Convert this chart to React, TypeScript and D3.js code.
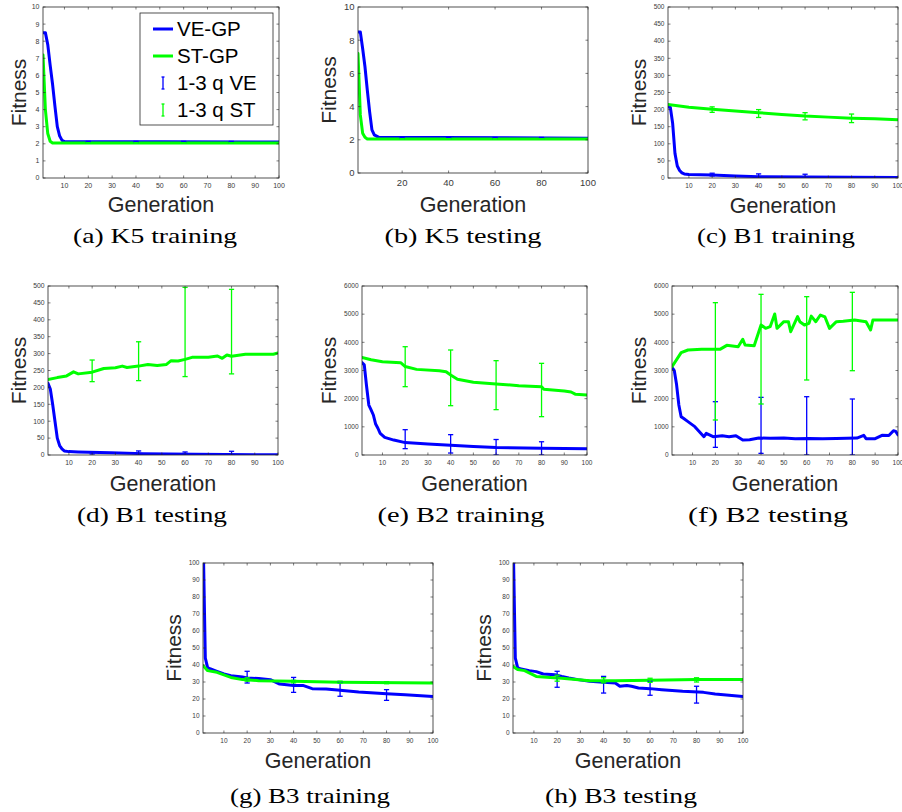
import React from 'react';
import * as d3 from 'd3';

type Pt = [number, number];
type Err = [number, number, number];

// ---------- shared tick values ----------
const generationDomain: [number, number] = [1, 100];
const xTicksBy10 = [10, 20, 30, 40, 50, 60, 70, 80, 90, 100];
const xTicksBy20 = [20, 40, 60, 80, 100];
const yTicksK5Train = [0, 1, 2, 3, 4, 5, 6, 7, 8, 9, 10];
const yTicksK5Test = [0, 2, 4, 6, 8, 10];
const yTicksB1 = [0, 50, 100, 150, 200, 250, 300, 350, 400, 450, 500];
const yTicksB2 = [0, 1000, 2000, 3000, 4000, 5000, 6000];
const yTicksB3 = [0, 10, 20, 30, 40, 50, 60, 70, 80, 90, 100];

const legendLabels = ['VE-GP', 'ST-GP', '1-3 q VE', '1-3 q ST'];
const xLabel = 'Generation';
const yLabel = 'Fitness';

// ---------- (a) K5 training ----------
const k5TrainVE: Pt[] = [[1, 8.5], [2, 8.5], [3, 7.8], [4, 6.6], [5, 5.5], [6, 4.2], [7, 3.0], [8, 2.45], [9, 2.2], [10, 2.13], [100, 2.1]];
const k5TrainST: Pt[] = [[1, 7.2], [2, 4.0], [3, 2.6], [4, 2.15], [5, 2.05], [100, 2.05]];
const k5TrainVEErr: Err[] = [[20, 2.07, 2.14], [40, 2.07, 2.14], [60, 2.07, 2.14], [80, 2.07, 2.14]];
const k5TrainSTErr: Err[] = [[20, 2.03, 2.07], [40, 2.03, 2.07], [60, 2.03, 2.07], [80, 2.03, 2.07]];

// ---------- (b) K5 testing ----------
const k5TestVE: Pt[] = [[1, 8.5], [2, 8.5], [3, 7.5], [4, 6.4], [5, 5.0], [6, 3.7], [7, 2.6], [8, 2.3], [10, 2.15], [100, 2.1]];
const k5TestST: Pt[] = [[1, 7.2], [2, 3.5], [3, 2.4], [4, 2.15], [5, 2.05], [100, 2.05]];
const k5TestVEErr: Err[] = [[20, 2.07, 2.14], [40, 2.07, 2.14], [60, 2.07, 2.14], [80, 2.07, 2.14]];
const k5TestSTErr: Err[] = [[20, 2.03, 2.07], [40, 2.03, 2.07], [60, 2.03, 2.07], [80, 2.03, 2.07]];

// ---------- (c) B1 training ----------
const b1TrainVE: Pt[] = [[1, 208], [2, 207], [3, 160], [4, 72], [5, 35], [6, 22], [7, 15], [8, 12], [10, 10], [20, 9], [30, 6], [40, 4], [60, 3], [80, 2], [100, 1.5]];
const b1TrainST: Pt[] = [[1, 215], [10, 207], [20, 201], [30, 196], [40, 191], [50, 186], [60, 181], [70, 178], [80, 175], [90, 173], [100, 170]];
const b1TrainVEErr: Err[] = [[20, 6, 14], [40, 3, 12], [60, 2, 11], [80, 0, 3]];
const b1TrainSTErr: Err[] = [[20, 192, 208], [40, 177, 200], [60, 170, 191], [80, 162, 187]];

// ---------- (d) B1 testing ----------
const b1TestVE: Pt[] = [[1, 212], [2, 195], [3, 150], [4, 100], [5, 50], [6, 28], [7, 18], [8, 12], [10, 10], [14, 9], [28, 7], [42, 4], [64, 2], [100, 0.7]];
const b1TestST: Pt[] = [[1, 223], [5, 229], [9, 234], [12, 246], [14, 240], [20, 245], [25, 256], [30, 258], [33, 263], [35, 259], [40, 263], [44, 268], [48, 265], [52, 268], [54, 279], [57, 278], [60, 283], [63, 289], [70, 289], [74, 293], [76, 286], [78, 296], [80, 292], [86, 298], [98, 298], [100, 302]];
const b1TestVEErr: Err[] = [[20, 3, 10], [40, 0, 12], [60, 0, 9], [80, 0, 11]];
const b1TestSTErr: Err[] = [[20, 217, 281], [40, 220, 335], [60, 232, 496], [80, 240, 490]];

// ---------- (e) B2 training ----------
const b2TrainVE: Pt[] = [[1, 3280], [2, 3200], [3, 2450], [4, 1775], [5, 1600], [6, 1420], [7, 1100], [8, 950], [9, 770], [11, 627], [15, 530], [20, 440], [30, 390], [40, 345], [50, 300], [60, 262], [80, 238], [100, 225]];
const b2TrainST: Pt[] = [[1, 3460], [5, 3380], [10, 3314], [18, 3278], [20, 3140], [25, 3040], [35, 2994], [38, 2958], [40, 2840], [43, 2686], [50, 2580], [60, 2521], [70, 2462], [80, 2426], [81, 2331], [90, 2272], [93, 2236], [95, 2154], [100, 2130]];
const b2TrainVEErr: Err[] = [[20, 225, 899], [40, 70, 722], [60, 0, 550], [80, 0, 470]];
const b2TrainSTErr: Err[] = [[20, 2426, 3845], [40, 1751, 3728], [60, 1610, 3349], [80, 1361, 3254]];

// ---------- (f) B2 testing ----------
const b2TestVE: Pt[] = [[1, 3113], [2, 3000], [3, 2500], [4, 1775], [5, 1361], [6, 1302], [8, 1184], [11, 1006], [13, 828], [15, 651], [16, 769], [19, 651], [23, 680], [26, 651], [29, 686], [32, 533], [35, 540], [39, 604], [44, 592], [50, 600], [55, 580], [61, 590], [67, 575], [73, 590], [82, 600], [85, 698], [86, 580], [90, 580], [93, 698], [96, 690], [98, 864], [99, 840], [100, 710]];
const b2TestST: Pt[] = [[1, 3136], [5, 3633], [8, 3728], [14, 3751], [22, 3751], [25, 3893], [30, 3846], [32, 4107], [33, 3905], [37, 3881], [40, 4615], [42, 4497], [44, 4556], [46, 5006], [47, 4497], [50, 4733], [52, 4733], [53, 4378], [56, 4911], [57, 4733], [59, 4615], [61, 4674], [62, 4930], [64, 4733], [66, 4970], [68, 4900], [70, 4497], [73, 4733], [76, 4750], [81, 4793], [86, 4733], [88, 4438], [89, 4793], [100, 4793]];
const b2TestVEErr: Err[] = [[20, 272, 1893], [40, 59, 2047], [60, 0, 2070], [80, 0, 1988]];
const b2TestSTErr: Err[] = [[20, 1243, 5408], [40, 1811, 5704], [60, 2663, 5621], [80, 2993, 5775]];

// ---------- (g) B3 training ----------
const b3TrainVE: Pt[] = [[1, 120], [2, 44], [3, 38.5], [4, 37.8], [7, 36.3], [10, 34.7], [13, 33.7], [18, 32.9], [20, 32.4], [25, 32], [30, 31.4], [34, 28.8], [40, 28], [44, 28], [48, 26.1], [54, 25.9], [60, 25.1], [68, 24.1], [80, 23.1], [88, 22.5], [100, 21.4]];
const b3TrainST: Pt[] = [[1, 39.6], [3, 36.7], [7, 35.7], [13, 32.7], [18, 31.4], [25, 30.8], [40, 30.4], [60, 29.8], [100, 29.4]];
const b3TrainVEErr: Err[] = [[20, 29.4, 36.3], [40, 23.9, 32.7], [60, 21.6, 30], [80, 19.2, 25.5]];
const b3TrainSTErr: Err[] = [[20, 30.5, 32.5], [40, 29.5, 31], [60, 29.3, 30.5], [80, 29, 30.2]];

// ---------- (h) B3 testing ----------
const b3TestVE: Pt[] = [[1, 120], [2, 44], [3, 38.5], [4, 37.8], [8, 36.7], [11, 36.1], [14, 34.7], [19, 34.3], [22, 33.3], [25, 32.4], [29, 31.4], [34, 30.4], [40, 29.8], [45, 29.4], [47, 27.5], [50, 28], [52, 27.5], [55, 26.5], [60, 26.1], [65, 25.5], [74, 24.5], [83, 23.9], [88, 22.9], [100, 21.4]];
const b3TestST: Pt[] = [[1, 39.2], [3, 37.3], [6, 36.7], [11, 33.3], [17, 32.7], [22, 32.2], [34, 30.8], [45, 30.8], [60, 31], [80, 31.4], [100, 31.4]];
const b3TestVEErr: Err[] = [[20, 26.9, 36.3], [40, 23.5, 33.3], [60, 22.2, 30.4], [80, 17.6, 27.5]];
const b3TestSTErr: Err[] = [[20, 30.5, 34], [40, 29.5, 32.5], [60, 29.8, 32.2], [80, 30, 32.5]];

// ---------- panel table ----------
const panels = [
  { id: 'a', caption: '(a) K5 training', ve: k5TrainVE, st: k5TrainST, veErr: k5TrainVEErr, stErr: k5TrainSTErr, yMax: 10, yTicks: yTicksK5Train, xTicks: xTicksBy10,
    box: [43, 279, 7, 178], tickFont: 7, fitX: 26, genY: 212, cap: [155, 243, 164], legend: true },
  { id: 'b', caption: '(b) K5 testing', ve: k5TestVE, st: k5TestST, veErr: k5TestVEErr, stErr: k5TestSTErr, yMax: 10, yTicks: yTicksK5Test, xTicks: xTicksBy20,
    box: [358, 588, 7, 173], tickFont: 9.5, fitX: 336, genY: 212, cap: [463, 243, 157] },
  { id: 'c', caption: '(c) B1 training', ve: b1TrainVE, st: b1TrainST, veErr: b1TrainVEErr, stErr: b1TrainSTErr, yMax: 500, yTicks: yTicksB1, xTicks: xTicksBy10,
    box: [668, 898, 7, 178], tickFont: 6.5, fitX: 646, genY: 213, cap: [776, 243, 158] },
  { id: 'd', caption: '(d) B1 testing', ve: b1TestVE, st: b1TestST, veErr: b1TestVEErr, stErr: b1TestSTErr, yMax: 500, yTicks: yTicksB1, xTicks: xTicksBy10,
    box: [48, 278, 286, 455], tickFont: 6.8, fitX: 26, genY: 491, cap: [152, 522, 150] },
  { id: 'e', caption: '(e) B2 training', ve: b2TrainVE, st: b2TrainST, veErr: b2TrainVEErr, stErr: b2TrainSTErr, yMax: 6000, yTicks: yTicksB2, xTicks: xTicksBy10,
    box: [362, 587, 286, 455], tickFont: 6.5, fitX: 336, genY: 491, cap: [461, 522, 167] },
  { id: 'f', caption: '(f) B2 testing', ve: b2TestVE, st: b2TestST, veErr: b2TestVEErr, stErr: b2TestSTErr, yMax: 6000, yTicks: yTicksB2, xTicks: xTicksBy10,
    box: [672, 898, 286, 455], tickFont: 6.5, fitX: 646, genY: 491, cap: [768, 522, 160] },
  { id: 'g', caption: '(g) B3 training', ve: b3TrainVE, st: b3TrainST, veErr: b3TrainVEErr, stErr: b3TrainSTErr, yMax: 100, yTicks: yTicksB3, xTicks: xTicksBy10,
    box: [203, 433, 563, 733], tickFont: 6.5, fitX: 181, genY: 768, cap: [310, 803, 160] },
  { id: 'h', caption: '(h) B3 testing', ve: b3TestVE, st: b3TestST, veErr: b3TestVEErr, stErr: b3TestSTErr, yMax: 100, yTicks: yTicksB3, xTicks: xTicksBy10,
    box: [513, 743, 563, 733], tickFont: 6.5, fitX: 491, genY: 768, cap: [621, 803, 152] },
];

const VE_COLOR = '#0000ff';
const ST_COLOR = '#00ff00';
const AXIS_COLOR = '#262626';
const SANS = '"Liberation Sans", Arial, Helvetica, sans-serif';
const SERIF = '"Liberation Serif", "Times New Roman", serif';

function ErrorBars({ data, x, y, color }: { data: Err[]; x: any; y: any; color: string }) {
  const cap = 2.6;
  return (
    <g stroke={color} strokeWidth={1.3} fill="none">
      {data.map((d, i) => {
        const cx = x(d[0]);
        const y0 = y(d[1]);
        const y1 = y(d[2]);
        return (
          <g key={i}>
            <line x1={cx} x2={cx} y1={y0} y2={y1} />
            <line x1={cx - cap} x2={cx + cap} y1={y0} y2={y0} />
            <line x1={cx - cap} x2={cx + cap} y1={y1} y2={y1} />
          </g>
        );
      })}
    </g>
  );
}

function Panel({ p }: { p: any }) {
  const [l, r, t, b] = p.box;
  const x = d3.scaleLinear().domain(generationDomain).range([l, r]);
  const y = d3.scaleLinear().domain([0, p.yMax]).range([b, t]);
  const line = d3.line<Pt>().x((d) => x(d[0])).y((d) => y(d[1]));
  const tl = 2.5;
  const fs = p.tickFont;
  const clipId = `clip-${p.id}`;
  return (
    <g>
      <defs>
        <clipPath id={clipId}>
          <rect x={l} y={t} width={r - l} height={b - t} />
        </clipPath>
      </defs>
      <rect x={l} y={t} width={r - l} height={b - t} fill="#ffffff" />
      <g clipPath={`url(#${clipId})`}>
        <path d={line(p.ve) || ''} fill="none" stroke={VE_COLOR} strokeWidth={3} strokeLinejoin="round" strokeLinecap="round" />
        <path d={line(p.st) || ''} fill="none" stroke={ST_COLOR} strokeWidth={3} strokeLinejoin="round" strokeLinecap="round" />
        <ErrorBars data={p.veErr} x={x} y={y} color={VE_COLOR} />
        <ErrorBars data={p.stErr} x={x} y={y} color={ST_COLOR} />
      </g>
      <rect x={l} y={t} width={r - l} height={b - t} fill="none" stroke={AXIS_COLOR} strokeWidth={0.8} />
      <g stroke={AXIS_COLOR} strokeWidth={0.6}>
        {p.xTicks.map((v: number) => (
          <g key={`xt${v}`}>
            <line x1={x(v)} x2={x(v)} y1={b} y2={b - tl} />
            <line x1={x(v)} x2={x(v)} y1={t} y2={t + tl} />
          </g>
        ))}
        {p.yTicks.map((v: number) => (
          <g key={`yt${v}`}>
            <line x1={l} x2={l + tl} y1={y(v)} y2={y(v)} />
            <line x1={r} x2={r - tl} y1={y(v)} y2={y(v)} />
          </g>
        ))}
      </g>
      <g fontFamily={SANS} fontSize={fs} fill="#3a3a3a">
        {p.xTicks.map((v: number) => (
          <text key={`xl${v}`} x={x(v)} y={b + 3 + fs} textAnchor="middle">{v}</text>
        ))}
        {p.yTicks.map((v: number) => (
          <text key={`yl${v}`} x={l - 3.5} y={y(v)} dy="0.35em" textAnchor="end">{v}</text>
        ))}
      </g>
      <text x={(l + r) / 2} y={p.genY} textAnchor="middle" fontFamily={SANS} fontSize={21.5} fill={AXIS_COLOR}>{xLabel}</text>
      <text transform={`translate(${p.fitX},${(t + b) / 2}) rotate(-90)`} textAnchor="middle" fontFamily={SANS} fontSize={21} fill={AXIS_COLOR}>{yLabel}</text>
      <text x={p.cap[0]} y={p.cap[1]} textAnchor="middle" fontFamily={SERIF} fontSize={22} fill="#000" textLength={p.cap[2]} lengthAdjust="spacingAndGlyphs">{p.caption}</text>
      {p.legend && <Legend />}
    </g>
  );
}

function Legend() {
  const bx = 140, by = 13, bw = 133, bh = 112;
  const rows = [29, 56, 83, 110];
  const colors = [VE_COLOR, ST_COLOR, VE_COLOR, ST_COLOR];
  return (
    <g>
      <rect x={bx} y={by} width={bw} height={bh} fill="#ffffff" stroke={AXIS_COLOR} strokeWidth={0.8} />
      {legendLabels.map((lab, i) => {
        const ry = rows[i];
        return (
          <g key={lab}>
            {i < 2 ? (
              <line x1={153} x2={173} y1={ry} y2={ry} stroke={colors[i]} strokeWidth={3} />
            ) : (
              <g stroke={colors[i]} strokeWidth={1.3}>
                <line x1={163} x2={163} y1={ry - 6} y2={ry + 6} />
                <line x1={161.5} x2={164.5} y1={ry - 6} y2={ry - 6} />
                <line x1={161.5} x2={164.5} y1={ry + 6} y2={ry + 6} />
              </g>
            )}
            <text x={177} y={ry} dy="0.36em" fontFamily={SANS} fontSize={20.5} fill="#000">{lab}</text>
          </g>
        );
      })}
    </g>
  );
}

export default function App() {
  return (
    <svg width={902} height={812} viewBox="0 0 902 812" style={{ position: 'absolute', left: 0, top: 0, background: '#ffffff' }}>
      <rect x={0} y={0} width={902} height={812} fill="#ffffff" />
      {panels.map((p) => (
        <Panel key={p.id} p={p} />
      ))}
    </svg>
  );
}
